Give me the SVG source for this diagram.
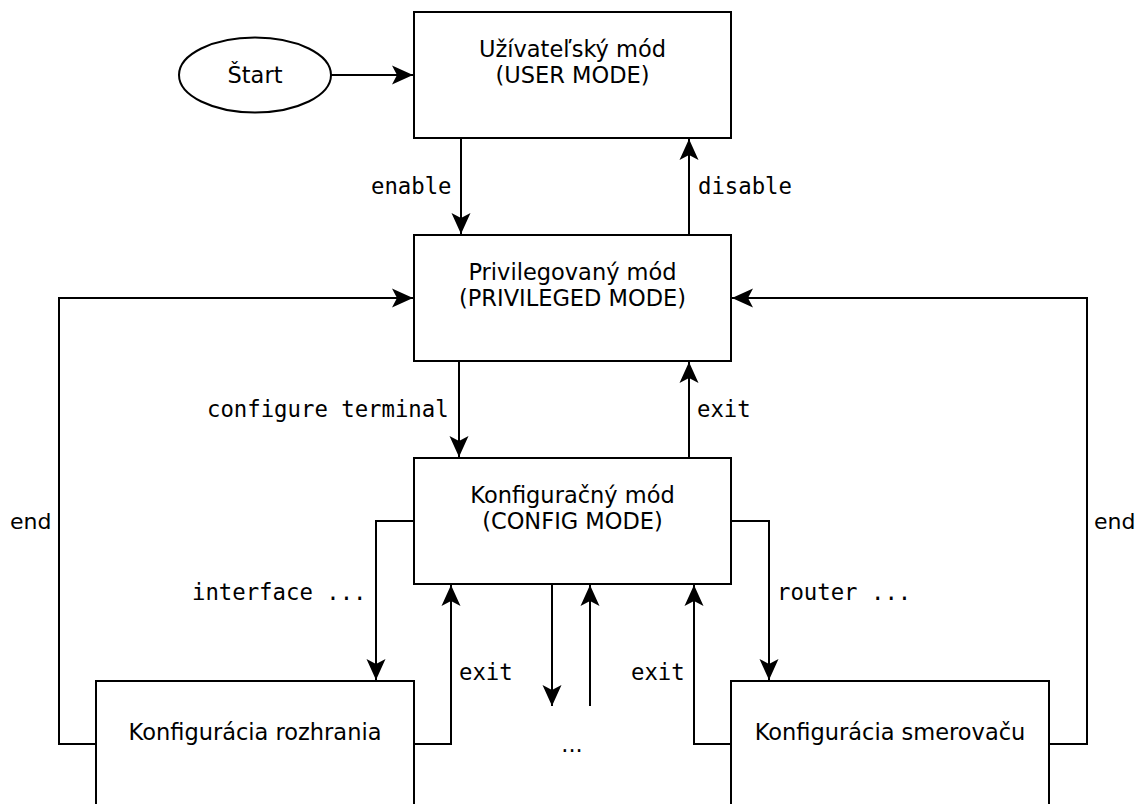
<svg xmlns="http://www.w3.org/2000/svg" width="1144" height="804" viewBox="0 0 1144 804">
<style>
.box{fill:#fff;stroke:#000;stroke-width:2}
.t{font-family:"DejaVu Sans","Liberation Sans",sans-serif;font-size:22.5px;fill:#000;text-anchor:middle}
.s{font-family:"DejaVu Sans","Liberation Sans",sans-serif;font-size:22px;fill:#000}
.m{font-family:"DejaVu Sans Mono","Liberation Mono",monospace;font-size:22.3px;fill:#000}
.c{fill:none;stroke:#000;stroke-width:2}
</style>
<defs>
<marker id="a" markerUnits="userSpaceOnUse" markerWidth="24" markerHeight="24" viewBox="-22 -11 24 22" refX="0" refY="0" orient="auto">
<path d="M0,0 L-21,-9.5 L-16,0 L-21,9.5 Z" fill="#000"/>
</marker>
</defs>
<rect width="1144" height="804" fill="#fff"/>
<g id="connectors">
<path class="c" d="M331,75 H413" marker-end="url(#a)"/>
<path class="c" d="M461,138 V234" marker-end="url(#a)"/>
<path class="c" d="M689,235 V139" marker-end="url(#a)"/>
<path class="c" d="M459,361 V457" marker-end="url(#a)"/>
<path class="c" d="M689,458 V362" marker-end="url(#a)"/>
<path class="c" d="M96,744 H59 V298 H413" marker-end="url(#a)"/>
<path class="c" d="M1049,744 H1087 V298 H732" marker-end="url(#a)"/>
<path class="c" d="M414,521 H376 V680" marker-end="url(#a)"/>
<path class="c" d="M414,744 H451 V585" marker-end="url(#a)"/>
<path class="c" d="M731,521 H769 V680" marker-end="url(#a)"/>
<path class="c" d="M731,744 H694 V585" marker-end="url(#a)"/>
<path class="c" d="M552,585 V706" marker-end="url(#a)"/>
<path class="c" d="M590,706 V585" marker-end="url(#a)"/>
<text class="m" x="371" y="194">enable</text>
<text class="m" x="698" y="194">disable</text>
<text class="m" x="207" y="417">configure terminal</text>
<text class="m" x="697" y="417">exit</text>
<text class="s" x="10" y="529">end</text>
<text class="s" x="1094" y="529">end</text>
<text class="m" x="192" y="600">interface ...</text>
<text class="m" x="777" y="600">router ...</text>
<text class="m" x="459" y="680">exit</text>
<text class="m" x="631" y="680">exit</text>
<text class="t" x="572" y="752">...</text>
</g>
<g id="start">
<ellipse class="box" cx="255" cy="75" rx="76" ry="37.5"/>
<text class="t" x="255" y="83">Štart</text>
</g>
<g id="user">
<rect class="box" x="414" y="12" width="317" height="126"/>
<text class="t" x="572.5" y="57">Užívateľský mód</text>
<text class="t" x="572.5" y="83">(USER MODE)</text>
</g>
<g id="privileged">
<rect class="box" x="414" y="235" width="317" height="126"/>
<text class="t" x="572.5" y="280">Privilegovaný mód</text>
<text class="t" x="572.5" y="306">(PRIVILEGED MODE)</text>
</g>
<g id="config">
<rect class="box" x="414" y="458" width="317" height="126"/>
<text class="t" x="572.5" y="503">Konfiguračný mód</text>
<text class="t" x="572.5" y="529">(CONFIG MODE)</text>
</g>
<g id="interface">
<rect class="box" x="96" y="681" width="318" height="140"/>
<text class="t" x="255" y="740">Konfigurácia rozhrania</text>
</g>
<g id="router">
<rect class="box" x="731" y="681" width="318" height="140"/>
<text class="t" x="890" y="740">Konfigurácia smerovaču</text>
</g>
</svg>
